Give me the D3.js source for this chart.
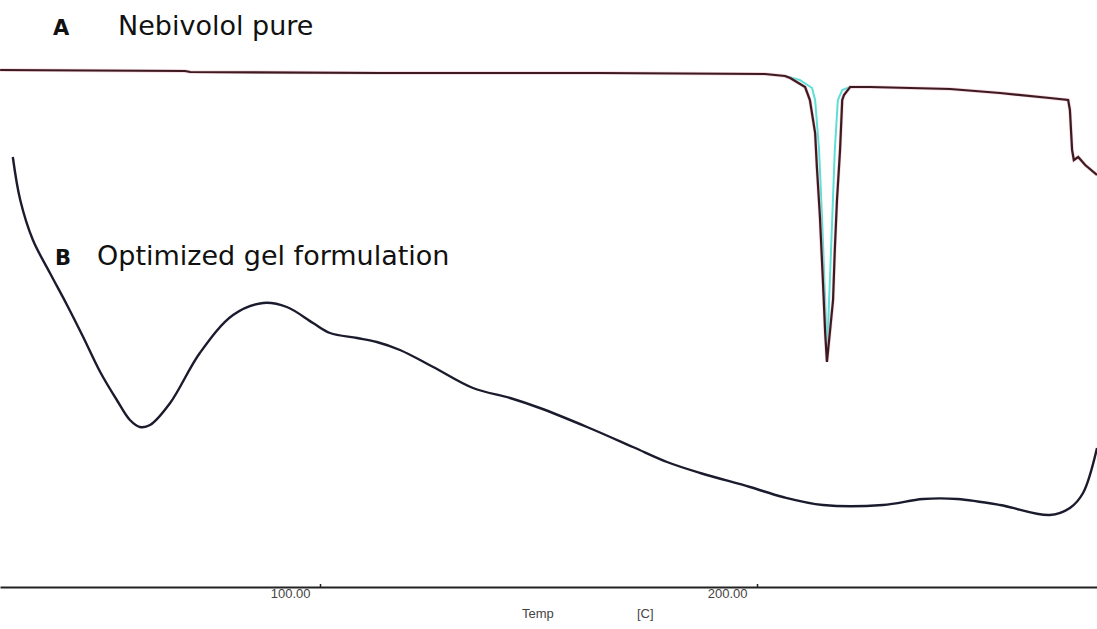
<!DOCTYPE html>
<html>
<head>
<meta charset="utf-8">
<script src="https://cdn.jsdelivr.net/npm/d3@7"></script>
<style>
  body { margin: 0; background: #fff; }
  svg { display: block; }
</style>
</head>
<body>
<svg width="1097" height="629"></svg>
<script>
// DSC thermograms, heat flow in arbitrary units, temperature in C
let tempA = [26.8, 69.1, 70.3, 113.7, 164.1, 201.8, 206.4, 207.6, 211.0, 212.1, 213.3, 213.7, 214.4, 215.1, 215.6, 216.0,
             216.5, 217.4, 217.8, 218.3, 219.0, 219.5, 219.9, 221.3, 225.9, 244.2, 255.6, 267.0, 271.2, 271.6, 272.1, 272.5, 273.5, 275.1, 277.8],
    flowA = [2.0, 1.9, 1.8, 1.7, 1.7, 1.6, 1.4, 1.2, 0.3, -1.0, -4.3, -7.7, -12.7, -19.3, -24.3, -27.2,
             -25.0, -21.0, -16.0, -11.0, -6.0, -1.0, -0.5, 0.3, 0.3, 0.1, -0.3, -0.8, -1.0, -2.0, -6.0, -7.0, -6.7, -7.5, -8.5];

// second (cyan) trace over the melting peak
let tempA2 = [206.4, 209.8, 212.6, 213.3, 214.2, 214.9, 215.6, 216.0, 216.5, 217.2, 217.8, 218.5, 219.5, 221.3],
    flowA2 = [1.4, 1.0, 0.2, -1.0, -6.0, -13.0, -21.0, -26.5, -21.0, -13.0, -6.0, -1.0, 0.0, 0.3];

let tempB = [29.7, 31.4, 34.3, 38.2, 42.1, 45.8, 49.7, 53.5, 56.5, 58.8, 61.1, 65.7, 72.5, 80.1, 87.0, 92.4, 98.4, 102.3,
             108.5, 113.0, 118.3, 125.9, 135.0, 143.5, 150.3, 161.1, 171.6, 179.4, 187.0, 198.4, 205.9, 215.1, 228.8,
             238.0, 245.8, 255.6, 267.0, 271.6, 274.6, 277.8],
    flowB = [-6.7, -11.0, -15.0, -18.3, -21.5, -24.7, -28.2, -31.0, -33.0, -33.7, -33.5, -31.3, -26.3, -22.5, -21.3, -21.7, -23.3, -24.3,
             -24.8, -25.2, -26.0, -27.7, -29.8, -30.8, -31.8, -33.7, -35.7, -37.2, -38.3, -39.7, -40.7, -41.5, -41.5,
             -40.9, -40.9, -41.5, -42.5, -41.8, -40.3, -35.8];

let tickTemps = [100, 200];

let svg = d3.select("svg"),
    width = +svg.attr("width"),
    height = +svg.attr("height");

let x = d3.scaleLinear().domain([26.77, 277.8]).range([0, width]),
    y = d3.scaleLinear().domain([5, -50]).range([40, 590]);

function pts(t, v) { return t.map(function(d, i) { return [d, v[i]]; }); }

let lineJag = d3.line().x(function(d) { return x(d[0]); }).y(function(d) { return y(d[1]); }),
    lineSmooth = d3.line().curve(d3.curveCatmullRom.alpha(0.5)).x(function(d) { return x(d[0]); }).y(function(d) { return y(d[1]); });

// cyan overlay under trace A
svg.append("path").datum(pts(tempA2, flowA2))
    .attr("d", lineJag).attr("fill", "none")
    .attr("stroke", "#3fd9d0").attr("stroke-width", 2).attr("opacity", 0.85);

// pink halo + dark trace A
svg.append("path").datum(pts(tempA, flowA))
    .attr("d", lineJag).attr("fill", "none")
    .attr("stroke", "#f2b8c8").attr("stroke-width", 3.5).attr("opacity", 0.6);
svg.append("path").datum(pts(tempA, flowA))
    .attr("d", lineJag).attr("fill", "none")
    .attr("stroke", "#3b1a20").attr("stroke-width", 2.2);

svg.append("path").datum(pts(tempB, flowB))
    .attr("d", lineSmooth).attr("fill", "none")
    .attr("stroke", "#1b1b2e").attr("stroke-width", 2.4);

// temperature axis
let axis = svg.append("g")
    .attr("transform", "translate(0,587)")
    .call(d3.axisBottom(x).tickValues(tickTemps).tickFormat(d3.format(".2f")).tickSize(-3).tickSizeOuter(0));
axis.select(".domain").attr("stroke", "#222").attr("stroke-width", 2);
axis.selectAll(".tick line").attr("stroke", "#222").attr("stroke-width", 1.5);
axis.selectAll(".tick text")
    .attr("text-anchor", "end").attr("x", -10).attr("y", 2)
    .attr("font-family", "Liberation Sans, Arial, sans-serif").attr("font-size", 13)
    .attr("fill", "#444");

svg.append("text").attr("x", 522).attr("y", 618)
    .attr("font-family", "Liberation Sans, Arial, sans-serif").attr("font-size", 13).attr("fill", "#444")
    .text("Temp");
svg.append("text").attr("x", 637).attr("y", 618)
    .attr("font-family", "Liberation Sans, Arial, sans-serif").attr("font-size", 13).attr("fill", "#444")
    .text("[C]");

// curve labels
let labels = [
  {key: "A", name: "Nebivolol pure", kx: 53, nx: 118, y: 35},
  {key: "B", name: "Optimized gel formulation", kx: 55, nx: 97, y: 265}
];
labels.forEach(function(l) {
  svg.append("text").attr("x", l.kx).attr("y", l.y)
      .attr("font-family", "DejaVu Sans, sans-serif").attr("font-weight", "bold").attr("font-size", 21)
      .attr("fill", "#111").text(l.key);
  svg.append("text").attr("x", l.nx).attr("y", l.y)
      .attr("font-family", "DejaVu Sans, sans-serif").attr("font-size", 27)
      .attr("fill", "#111").text(l.name);
});
</script>
</body>
</html>
